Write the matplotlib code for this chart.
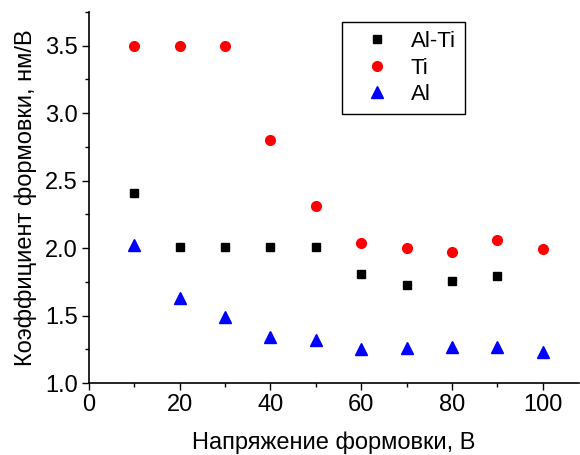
import matplotlib
matplotlib.use("Agg")
import matplotlib.pyplot as plt
from matplotlib.ticker import MultipleLocator

plt.rcParams["font.family"] = ["Liberation Sans", "DejaVu Sans"]

voltage = [10, 20, 30, 40, 50, 60, 70, 80, 90, 100]
al_ti_x = [10, 20, 30, 40, 50, 60, 70, 80, 90]
al_ti = [2.41, 2.01, 2.01, 2.01, 2.01, 1.81, 1.73, 1.76, 1.79]
ti = [3.50, 3.50, 3.50, 2.80, 2.31, 2.04, 2.00, 1.97, 2.06, 1.99]
al = [2.02, 1.63, 1.49, 1.34, 1.32, 1.25, 1.26, 1.27, 1.27, 1.23]

fig = plt.figure(figsize=(5.8, 4.55), dpi=100)
ax = fig.add_axes([0.1534, 0.158, 0.845, 0.816])

ax.plot(al_ti_x, al_ti, ls="none", marker="s", ms=6, color="black", label="Al-Ti")
ax.plot(voltage, ti, ls="none", marker="o", ms=7, color="red", label="Ti")
ax.plot(voltage, al, ls="none", marker="^", ms=8, color="blue", label="Al")

ax.set_xlim(0, 108)
ax.set_ylim(1.0, 3.75)
ax.xaxis.set_major_locator(MultipleLocator(20))
ax.xaxis.set_minor_locator(MultipleLocator(10))
ax.yaxis.set_major_locator(MultipleLocator(0.5))
ax.yaxis.set_minor_locator(MultipleLocator(0.25))
ax.yaxis.set_major_formatter(plt.FormatStrFormatter("%.1f"))
ax.tick_params(which="major", direction="out", length=5, width=1, labelsize=17, pad=3)
ax.tick_params(which="minor", direction="out", length=3, width=1)
for side in ("top", "right"):
    ax.spines[side].set_visible(False)
for side in ("left", "bottom"):
    ax.spines[side].set_linewidth(1.2)

ax.set_xlabel("Напряжение формовки, В", fontsize=17, labelpad=11)
ax.set_ylabel("Коэффициент формовки, нм/В", fontsize=17, labelpad=6)

leg = ax.legend(loc="upper left", bbox_to_anchor=(0.516, 0.972), fontsize=16,
                fancybox=False, edgecolor="black", framealpha=1,
                handletextpad=0.3, borderpad=0.4, labelspacing=0.25,
                handlelength=2.4, borderaxespad=0)
leg.get_frame().set_linewidth(1.0)

fig.savefig("out.png", dpi=100)
